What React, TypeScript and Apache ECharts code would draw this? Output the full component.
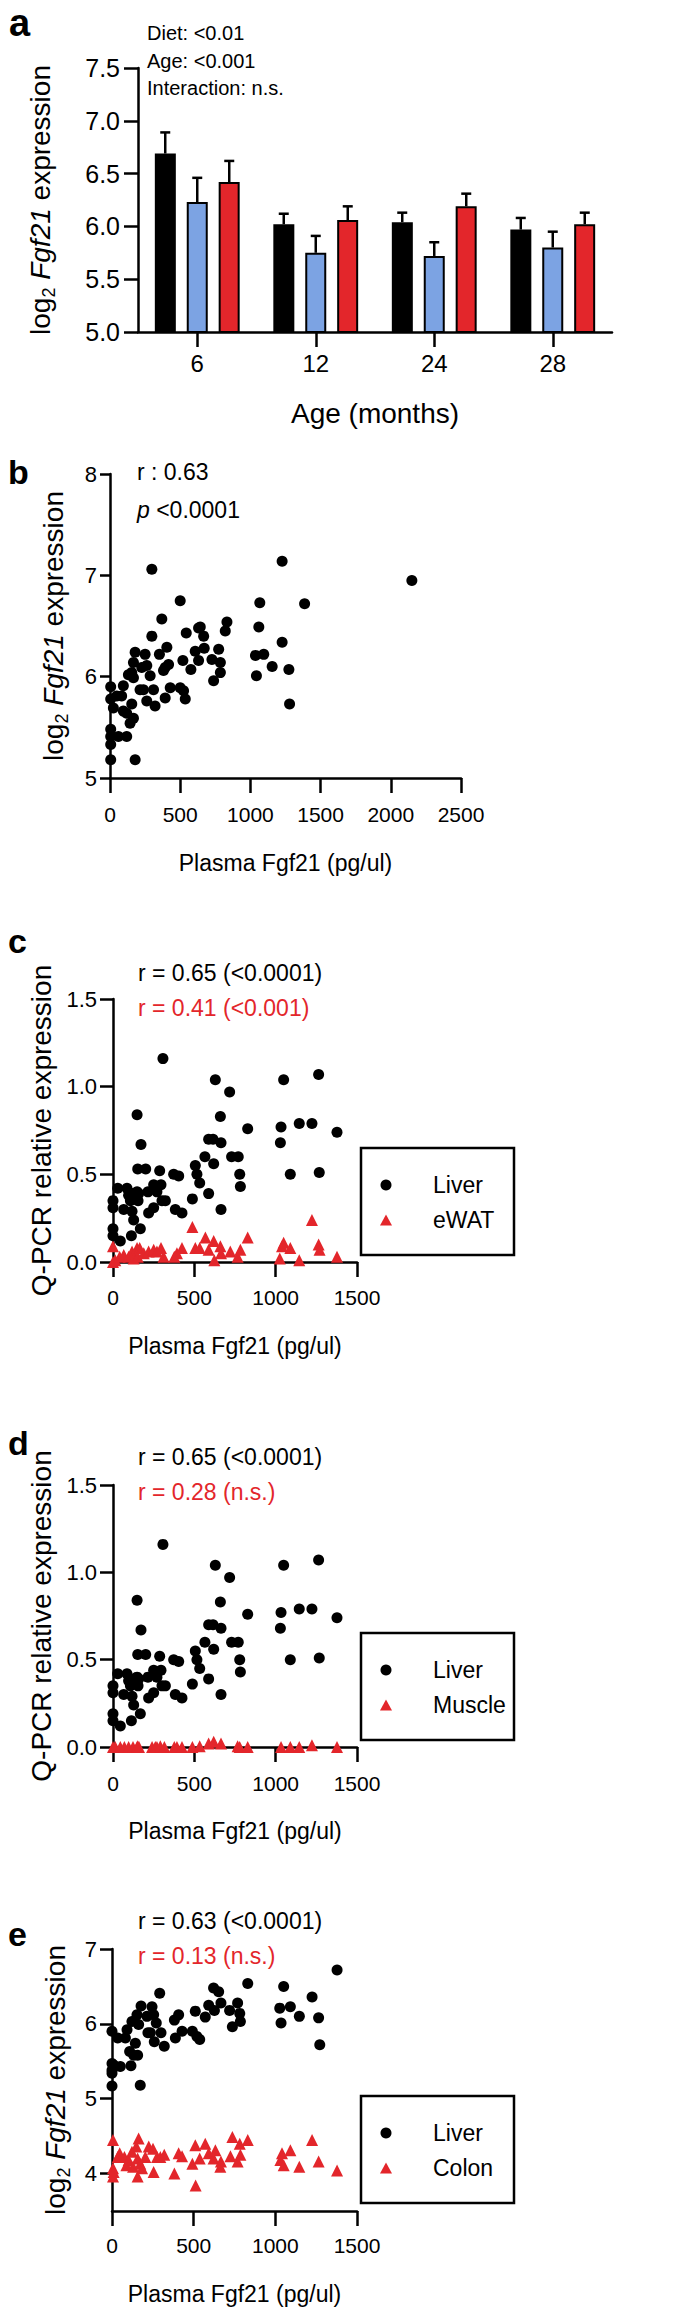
import React, { useEffect, useRef } from 'react';
import * as echarts from 'echarts';

const FONT = '"Liberation Sans", Arial, Helvetica, sans-serif';
const RED = '#e3262b';
const BLUE = '#7ca3e3';

// ---------- Panel a: bars ----------
const ageCategories = ['6', '12', '24', '28'];
const groupNames = ['Group 1', 'Group 2', 'Group 3'];
const blackMean = [6.69, 6.02, 6.04, 5.97];
const blackSem = [0.2, 0.1, 0.09, 0.11];
const blueMean = [6.23, 5.75, 5.72, 5.8];
const blueSem = [0.23, 0.16, 0.13, 0.15];
const redMean = [6.42, 6.06, 6.19, 6.02];
const redSem = [0.2, 0.13, 0.12, 0.11];
const statsA = ['Diet: <0.01', 'Age: <0.001', 'Interaction: n.s.'];

// ---------- Panel b ----------
const bPlasma = [5, 5, 24, 48, 95, 83, 60, 5, 5, 5, 5, 119, 95, 119, 155, 143, 167, 131, 155, 167, 179, 167, 179, 214, 226, 238, 250, 262, 262, 286, 298, 298, 310, 321, 352, 369, 381, 393, 405, 417, 393, 429, 500, 500, 519, 524, 536, 543, 576, 607, 631, 631, 643, 667, 671, 726, 738, 774, 786, 786, 821, 833, 1036, 1043, 1060, 1067, 1095, 1155, 1226, 1226, 1274, 1279, 1386, 2150];
const bLiver = [5.9, 5.78, 5.69, 5.81, 5.91, 5.81, 5.41, 5.48, 5.41, 5.33, 5.18, 5.41, 5.66, 5.64, 5.73, 5.54, 5.59, 6.02, 6.04, 6.14, 6.24, 5.99, 5.18, 5.87, 6.09, 5.87, 6.22, 6.11, 5.76, 6.01, 7.06, 6.4, 5.87, 5.71, 6.22, 6.57, 6.06, 6.09, 6.29, 6.12, 5.79, 5.89, 6.75, 5.89, 6.16, 5.86, 5.78, 6.43, 6.07, 6.25, 6.16, 6.48, 6.49, 6.4, 6.28, 6.17, 5.96, 6.27, 6.14, 6.04, 6.45, 6.54, 6.21, 6.01, 6.49, 6.73, 6.22, 6.1, 7.14, 6.34, 6.07, 5.73, 6.72, 6.95];

// ---------- Panels c & d: liver Q-PCR ----------
const qPlasma = [0, 0, 0, 0, 45, 29, 66, 86, 96, 107, 117, 123, 127, 113, 148, 154, 158, 148, 152, 172, 168, 201, 215, 219, 250, 250, 270, 287, 295, 301, 322, 307, 373, 404, 383, 424, 488, 506, 516, 533, 565, 588, 588, 615, 619, 629, 664, 660, 664, 717, 729, 770, 779, 783, 828, 1029, 1033, 1049, 1090, 1145, 1223, 1264, 1268, 1377];
const qLiver = [0.35, 0.31, 0.19, 0.15, 0.12, 0.42, 0.3, 0.42, 0.38, 0.35, 0.29, 0.39, 0.24, 0.15, 0.4, 0.35, 0.39, 0.84, 0.53, 0.67, 0.19, 0.53, 0.4, 0.28, 0.44, 0.31, 0.4, 0.52, 0.44, 0.35, 0.35, 1.16, 0.5, 0.49, 0.3, 0.28, 0.36, 0.55, 0.5, 0.45, 0.6, 0.39, 0.7, 0.7, 0.56, 1.04, 0.68, 0.83, 0.3, 0.97, 0.6, 0.6, 0.5, 0.43, 0.76, 0.68, 0.77, 1.04, 0.5, 0.79, 0.79, 1.07, 0.51, 0.74];

const ewatPlasma = [0, 0, 14, 41, 66, 96, 117, 127, 148, 164, 152, 189, 219, 250, 270, 295, 311, 377, 393, 424, 488, 506, 533, 568, 588, 619, 623, 660, 664, 721, 766, 783, 828, 1025, 1039, 1049, 1090, 1145, 1223, 1264, 1270, 1377];
const ewatExpr = [0.09, 0.0, 0.01, 0.03, 0.04, 0.03, 0.06, 0.02, 0.08, 0.08, 0.03, 0.05, 0.06, 0.07, 0.06, 0.08, 0.03, 0.03, 0.05, 0.08, 0.2, 0.08, 0.08, 0.14, 0.07, 0.12, 0.01, 0.09, 0.05, 0.06, 0.03, 0.07, 0.14, 0.02, 0.09, 0.11, 0.08, 0.01, 0.24, 0.1, 0.07, 0.03];

const musclePlasma = [0, 14, 45, 70, 96, 123, 148, 152, 160, 240, 260, 270, 291, 316, 377, 393, 424, 488, 533, 588, 619, 664, 766, 779, 828, 1033, 1090, 1145, 1223, 1377];
const muscleExpr = [0, 0, 0, 0, 0, 0, 0, 0.005, 0, 0, 0, 0, 0.005, 0, 0, 0, 0, 0, 0.005, 0.02, 0.03, 0.02, 0.005, 0, 0, 0, 0, 0, 0.01, 0];

// ---------- Panel e ----------
const eLiverPlasma = [0, 0, 0, 0, 0, 10, 35, 51, 82, 92, 108, 116, 122, 133, 143, 153, 157, 163, 173, 178, 214, 220, 235, 245, 255, 259, 271, 292, 300, 320, 382, 388, 408, 429, 492, 510, 520, 537, 571, 592, 622, 627, 653, 667, 720, 737, 769, 782, 786, 831, 1027, 1035, 1051, 1092, 1147, 1225, 1265, 1272, 1378];
const eLiverExpr = [5.9, 5.47, 5.38, 5.34, 5.17, 5.45, 5.81, 5.43, 5.81, 5.92, 5.63, 5.44, 6.03, 5.58, 5.74, 6.12, 5.58, 5.99, 5.18, 6.24, 6.1, 5.88, 5.88, 6.23, 6.12, 5.76, 6.01, 6.41, 5.88, 5.7, 6.05, 5.81, 6.12, 5.9, 5.9, 6.17, 5.83, 5.79, 6.09, 6.25, 6.48, 6.18, 6.43, 6.28, 6.18, 5.96, 6.28, 6.14, 6.03, 6.54, 6.21, 6.01, 6.5, 6.23, 6.1, 6.36, 6.08, 5.72, 6.72];
const colonPlasma = [6, 6, 6, 10, 47, 35, 76, 88, 102, 122, 129, 149, 157, 163, 157, 173, 184, 204, 225, 251, 255, 276, 296, 320, 382, 408, 429, 492, 510, 512, 537, 571, 592, 622, 633, 663, 667, 725, 737, 769, 782, 786, 831, 1031, 1041, 1051, 1092, 1147, 1225, 1265, 1378];
const colonExpr = [4.45, 4.07, 3.96, 4.02, 4.27, 4.22, 4.22, 4.11, 4.18, 4.29, 4.09, 4.36, 4.2, 4.47, 3.96, 4.13, 4.07, 4.22, 4.36, 4.33, 4.02, 4.22, 4.22, 4.25, 4.0, 4.27, 4.23, 4.13, 4.38, 3.84, 4.2, 4.4, 4.27, 4.2, 4.31, 4.09, 4.16, 4.23, 4.49, 4.16, 4.4, 4.25, 4.45, 4.18, 4.27, 4.11, 4.31, 4.09, 4.45, 4.16, 4.04];
const eYTicks = [4, 5, 6, 7];

const zip = (xs: number[], ys: number[]) => xs.map((x, i) => [x, ys[i]]);

const BAR_W = 21;
const BAR_SPACE = 11;

function buildOption() {
  const axisLine = { show: true, onZero: false, lineStyle: { color: '#000', width: 2.5 } };
  const tick = (len: number, extra: any = {}) => ({ show: true, length: len, lineStyle: { color: '#000', width: 2.5 }, ...extra });
  const plain = (v: number) => String(v);
  const lbl = (size: number, margin: number, extra: any = {}) => ({ fontSize: size, margin, color: '#000', fontFamily: FONT, formatter: plain, ...extra });
  const richName = (size: number) => ({
    fontFamily: FONT,
    fontSize: size,
    color: '#000',
    rich: {
      n: { fontFamily: FONT, fontSize: size, color: '#000', lineHeight: 36 },
      s: { fontFamily: FONT, fontSize: Math.round(size * 0.64), color: '#000', lineHeight: 16, verticalAlign: 'bottom' },
      i: { fontFamily: FONT, fontSize: size, color: '#000', fontStyle: 'italic', lineHeight: 36 },
    },
  });
  const fgfName = '{n|log}{s|2}{n| }{i|Fgf21}{n| expression}';
  const plasmaName = 'Plasma Fgf21 (pg/ul)';
  const xNameStyle = { fontFamily: FONT, fontSize: 23, color: '#000', lineHeight: 28 };
  const oneDec = (v: number) => v.toFixed(1);

  const scatterX = (gi: number, margin: number, nameGap: number, max: number) => ({
    type: 'value', gridIndex: gi, min: 0, max, interval: 500,
    axisLine, axisTick: tick(15), axisLabel: lbl(21, margin), splitLine: { show: false },
    name: plasmaName, nameLocation: 'middle', nameGap, nameTextStyle: xNameStyle,
  });

  const errSeries = (means: number[], sems: number[], idx: number) => ({
    type: 'custom', xAxisIndex: 0, yAxisIndex: 0, z: 5, clip: false,
    data: means.map((m, i) => [i, m, m + sems[i]]),
    renderItem: (params: any, api: any) => {
      const off = (idx - 1) * (BAR_W + BAR_SPACE);
      const base = api.coord([api.value(0), api.value(1)]);
      const top = api.coord([api.value(0), api.value(2)]);
      const x = base[0] + off;
      return {
        type: 'group',
        children: [
          { type: 'line', shape: { x1: x, y1: base[1], x2: x, y2: top[1] }, style: { stroke: '#000', lineWidth: 2.5 } },
          { type: 'line', shape: { x1: x - 5, y1: top[1], x2: x + 5, y2: top[1] }, style: { stroke: '#000', lineWidth: 2.5 } },
        ],
      };
    },
  });

  const barSeries = (name: string, data: number[], color: string) => ({
    type: 'bar', name, xAxisIndex: 0, yAxisIndex: 0, data, barWidth: BAR_W, barGap: `${Math.round((BAR_SPACE / BAR_W) * 100)}%`,
    itemStyle: { color, borderColor: '#000', borderWidth: 2, opacity: 1 }, z: 3,
  });

  const dot = (gi: number, data: number[][], name: string) => ({
    type: 'scatter', name, xAxisIndex: gi, yAxisIndex: gi, data, symbol: 'circle', symbolSize: 11,
    itemStyle: { color: '#000', opacity: 1 }, clip: false, z: 4,
  });
  const tri = (gi: number, data: number[][], name: string) => ({
    type: 'scatter', name, xAxisIndex: gi, yAxisIndex: gi, data, symbol: 'triangle', symbolSize: 12,
    itemStyle: { color: RED, opacity: 1 }, clip: false, z: 3,
  });

  const txt = (x: number, y: number, text: string, size: number, fill = '#000', extra: any = {}) => ({
    type: 'text', x, y,
    style: { text, fontFamily: FONT, fontSize: size, fill, verticalAlign: 'middle', align: 'left', ...extra },
  });
  const panelLabel = (x: number, y: number, t: string, size: number) =>
    txt(x, y, t, size, '#000', { fontWeight: 'bold' });

  const legendBox = (top: number, second: string) => ({
    type: 'group', x: 361, y: top,
    children: [
      { type: 'rect', shape: { x: 0, y: 0, width: 153, height: 107 }, style: { fill: 'none', stroke: '#000', lineWidth: 2.5 } },
      { type: 'circle', shape: { cx: 25, cy: 37, r: 5.5 }, style: { fill: '#000' } },
      { type: 'polygon', shape: { points: [[19, 77.5], [31, 77.5], [25, 66.5]] }, style: { fill: RED } },
      txt(72, 37, 'Liver', 23),
      txt(72, 72, second, 23),
    ],
  });

  return {
    animation: false,
    backgroundColor: '#fff',
    textStyle: { fontFamily: FONT },
    grid: [
      { left: 138, top: 68, width: 474, height: 264, outerBoundsMode: 'none' },
      { left: 110, top: 474, width: 351, height: 304, outerBoundsMode: 'none' },
      { left: 113, top: 999, width: 244, height: 263, outerBoundsMode: 'none' },
      { left: 113, top: 1485, width: 244, height: 262, outerBoundsMode: 'none' },
      { left: 112, top: 1949, width: 245, height: 262, outerBoundsMode: 'none' },
    ],
    xAxis: [
      {
        type: 'category', gridIndex: 0, data: ageCategories,
        axisLine, axisTick: tick(15, { alignWithLabel: true }), axisLabel: { fontSize: 24, margin: 19, color: '#000', fontFamily: FONT },
        name: 'Age (months)', nameLocation: 'middle', nameGap: 65,
        nameTextStyle: { fontFamily: FONT, fontSize: 28, color: '#000', lineHeight: 32 },
      },
      scatterX(1, 26, 71, 2500),
      scatterX(2, 25, 70, 1500),
      scatterX(3, 26, 70, 1500),
      scatterX(4, 24, 69, 1500),
    ],
    yAxis: [
      {
        type: 'value', gridIndex: 0, min: 5, max: 7.5, interval: 0.5,
        axisLine, axisTick: tick(14), axisLabel: lbl(25, 18, { formatter: oneDec }), splitLine: { show: false },
        name: fgfName, nameLocation: 'middle', nameGap: 80, nameTextStyle: richName(28),
      },
      {
        type: 'value', gridIndex: 1, min: 5, max: 8, interval: 1,
        axisLine, axisTick: tick(10), axisLabel: lbl(22, 13), splitLine: { show: false },
        name: fgfName, nameLocation: 'middle', nameGap: 39, nameTextStyle: richName(28),
      },
      {
        type: 'value', gridIndex: 2, min: 0, max: 1.5, interval: 0.5,
        axisLine, axisTick: tick(13), axisLabel: lbl(22, 16, { formatter: oneDec }), splitLine: { show: false },
        name: 'Q-PCR relative expression', nameLocation: 'middle', nameGap: 54,
        nameTextStyle: { fontFamily: FONT, fontSize: 28, color: '#000', lineHeight: 36 },
      },
      {
        type: 'value', gridIndex: 3, min: 0, max: 1.5, interval: 0.5,
        axisLine, axisTick: tick(13), axisLabel: lbl(22, 16, { formatter: oneDec }), splitLine: { show: false },
        name: 'Q-PCR relative expression', nameLocation: 'middle', nameGap: 54,
        nameTextStyle: { fontFamily: FONT, fontSize: 28, color: '#000', lineHeight: 36 },
      },
      {
        type: 'value', gridIndex: 4, min: 3.5, max: 7,
        axisLine, axisTick: tick(12, { customValues: eYTicks }), axisLabel: lbl(22, 15, { customValues: eYTicks }),
        splitLine: { show: false },
        name: fgfName, nameLocation: 'middle', nameGap: 39, nameTextStyle: richName(28),
      },
    ],
    series: [
      barSeries(groupNames[0], blackMean, '#000'),
      barSeries(groupNames[1], blueMean, BLUE),
      barSeries(groupNames[2], redMean, RED),
      errSeries(blackMean, blackSem, 0),
      errSeries(blueMean, blueSem, 1),
      errSeries(redMean, redSem, 2),
      dot(1, zip(bPlasma, bLiver), 'Liver'),
      dot(2, zip(qPlasma, qLiver), 'Liver'),
      tri(2, zip(ewatPlasma, ewatExpr), 'eWAT'),
      dot(3, zip(qPlasma, qLiver), 'Liver'),
      tri(3, zip(musclePlasma, muscleExpr), 'Muscle'),
      dot(4, zip(eLiverPlasma, eLiverExpr), 'Liver'),
      tri(4, zip(colonPlasma, colonExpr), 'Colon'),
    ],
    graphic: [
      panelLabel(9, 23, 'a', 38),
      txt(147, 33, statsA[0], 20),
      txt(147, 61, statsA[1], 20),
      txt(147, 88, statsA[2], 20),

      panelLabel(8, 472, 'b', 34),
      txt(137, 472, 'r : 0.63', 23),
      {
        type: 'text', x: 137, y: 510,
        style: {
          text: '{i|p} <0.0001', fontFamily: FONT, fontSize: 23, fill: '#000', verticalAlign: 'middle', align: 'left',
          rich: { i: { fontFamily: FONT, fontSize: 23, fontStyle: 'italic', fill: '#000' } },
        },
      },

      panelLabel(8, 941, 'c', 34),
      txt(138, 973, 'r = 0.65 (<0.0001)', 23),
      txt(138, 1008, 'r = 0.41 (<0.001)', 23, RED),
      legendBox(1148, 'eWAT'),

      panelLabel(8, 1443, 'd', 34),
      txt(138, 1457, 'r = 0.65 (<0.0001)', 23),
      txt(138, 1492, 'r = 0.28 (n.s.)', 23, RED),
      legendBox(1633, 'Muscle'),

      panelLabel(8, 1934, 'e', 34),
      txt(138, 1921, 'r = 0.63 (<0.0001)', 23),
      txt(138, 1956, 'r = 0.13 (n.s.)', 23, RED),
      legendBox(2096, 'Colon'),
    ],
  };
}

export default function App() {
  const ref = useRef<HTMLDivElement>(null);
  useEffect(() => {
    if (!ref.current) return;
    const chart = echarts.init(ref.current, null, { renderer: 'svg' });
    chart.setOption(buildOption() as any);
    return () => chart.dispose();
  }, []);
  return (
    <div
      ref={ref}
      style={{ position: 'absolute', left: 0, top: 0, width: 675, height: 2320, background: '#fff' }}
    />
  );
}
